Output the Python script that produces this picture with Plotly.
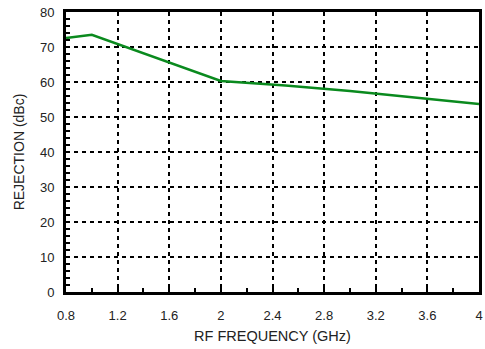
import plotly.graph_objects as go

freq_ghz = [0.8, 1.0, 2.0, 2.5, 3.0, 3.5, 4.0]
rejection_dbc = [72.6, 73.5, 60.3, 59.0, 57.4, 55.5, 53.7]

x_ticks = [0.8, 1.2, 1.6, 2.0, 2.4, 2.8, 3.2, 3.6, 4.0]
x_labels = ["0.8", "1.2", "1.6", "2", "2.4", "2.8", "3.2", "3.6", "4"]
y_ticks = [0, 10, 20, 30, 40, 50, 60, 70, 80]

fig = go.Figure()
fig.add_trace(go.Scatter(x=freq_ghz, y=rejection_dbc, mode="lines",
                         line=dict(color="#0a8a1e", width=2.5), showlegend=False))

fam = "Liberation Sans, Arial, sans-serif"
font = dict(family=fam, size=13, color="#222")
axis_common = dict(showline=True, linecolor="black", linewidth=3, mirror=True,
                   showgrid=True, gridcolor="black", gridwidth=2, griddash="4px,4px",
                   zeroline=False, ticks="inside", ticklen=4, tickwidth=2, tickcolor="black",
                   tickfont=font)

fig.update_xaxes(range=[0.8, 4.0], tickvals=x_ticks, ticktext=x_labels,
                 minor=dict(dtick=0.2, tick0=0.8, ticks="inside", ticklen=4, tickwidth=2,
                            tickcolor="black", showgrid=False),
                 ticklabelstandoff=9,
                 title=dict(text="RF FREQUENCY (GHz)", font=dict(family=fam, size=14.5, color="#222"), standoff=10),
                 **axis_common)
fig.update_yaxes(range=[0, 80], tickvals=y_ticks,
                 minor=dict(dtick=2, tick0=0, ticks="inside", ticklen=4, tickwidth=2,
                            tickcolor="black", showgrid=False),
                 ticklabelstandoff=6,
                 title=dict(text="REJECTION (dBc)", font=dict(family=fam, size=14, color="#222"), standoff=13),
                 **axis_common)

fig.update_layout(width=485, height=349, margin=dict(l=66, r=3, t=12, b=57),
                  plot_bgcolor="white", paper_bgcolor="white")
fig.write_html("out.html")
